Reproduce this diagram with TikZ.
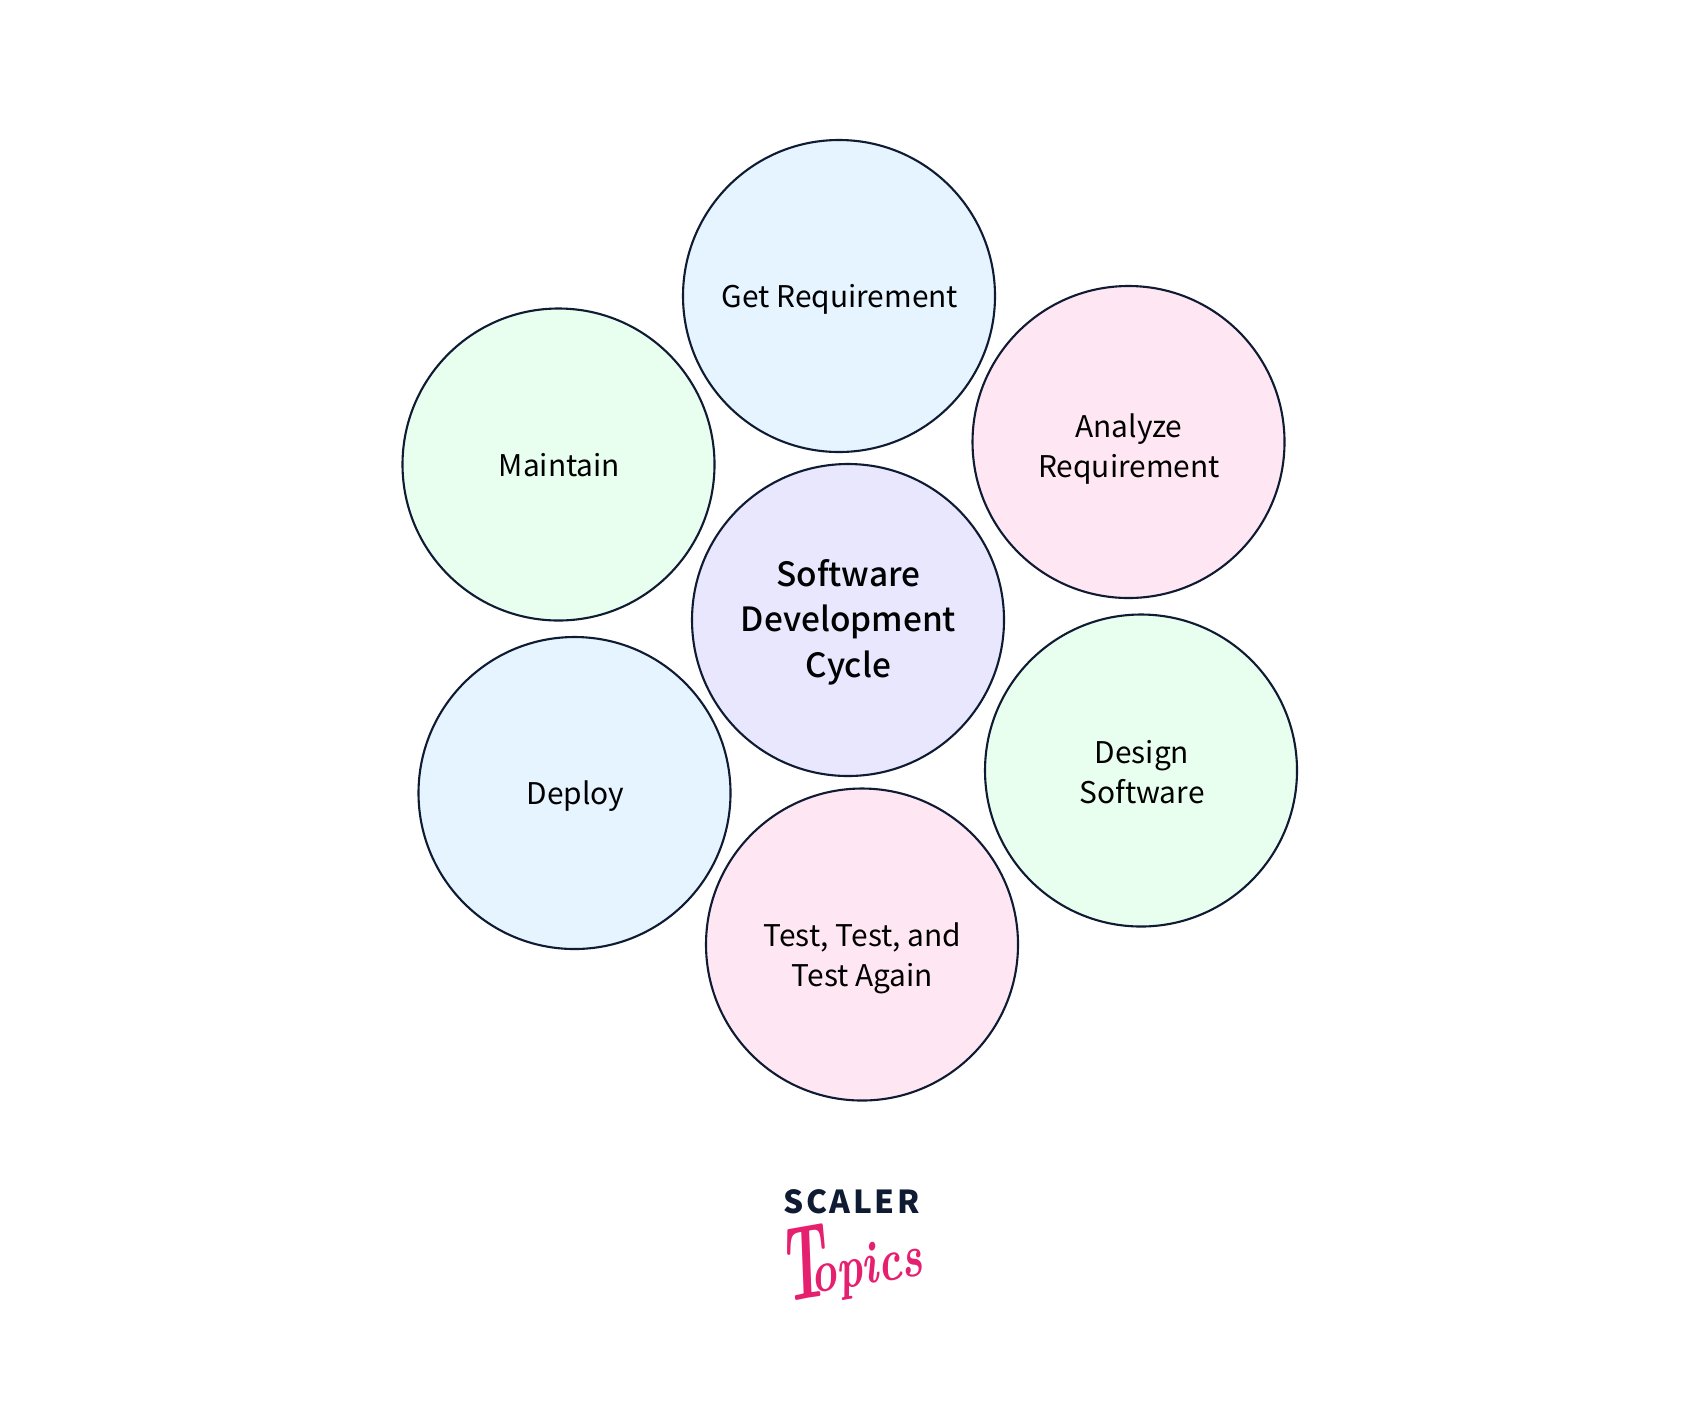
\documentclass[tikz,border=0pt]{standalone}
\usepackage{fontspec}
\setmainfont{Noto Sans CJK SC}
\newfontfamily\hubfont{Noto Sans CJK SC Medium}
\usepackage{xcolor}
\definecolor{inkline}{HTML}{0F1A33}
\definecolor{skyfill}{HTML}{E5F4FF}
\definecolor{rosefill}{HTML}{FEE7F3}
\definecolor{mintfill}{HTML}{E8FEEE}
\definecolor{lilacfill}{HTML}{E8E7FD}
\definecolor{logopink}{HTML}{E5206F}
\tikzset{
    stage/.style={circle, draw=inkline, line width=0.6pt, minimum size=31.2mm, inner sep=0pt},
    caption/.style={align=center, text=black, inner sep=0pt, font=\fontsize{8.5}{11.3}\selectfont},
    hubcaption/.style={caption, font=\fontsize{9.5}{12.9}\hubfont},
}

\begin{document}
\begin{tikzpicture}[x=0.1mm, y=-0.1mm]
    \useasboundingbox (0,0) rectangle (1700,1407);

    % outer ring
    \node[stage, fill=skyfill] (get) at (839,296) {};
    \node[stage, fill=rosefill] (analyze) at (1128.5,442) {};
    \node[stage, fill=mintfill] (design) at (1141,770.5) {};
    \node[stage, fill=rosefill] (test) at (862,944.5) {};
    \node[stage, fill=skyfill] (deploy) at (574.5,793) {};
    \node[stage, fill=mintfill] (maintain) at (558.5,464.5) {};

    % centre
    \node[stage, fill=lilacfill] (cycle) at (848,620) {};

    % texts sit a little off the centres
    \node[caption] (getlabel) at (840,299.5) {Get Requirement};
    \node[caption] (analyzelabel) at (1129,449) {Analyze\\Requirement};
    \node[caption] (designlabel) at (1142,772) {Design\\Software};
    \node[caption] (testlabel) at (862.5,958) {Test, Test, and\\Test Again};
    \node[caption] (deploylabel) at (575.5,796) {Deploy};
    \node[caption] (maintainlabel) at (559.5,465.5) {Maintain};
    \node[hubcaption] (cyclelabel) at (848.5,622) {Software\\Development\\Cycle};

    % logo
    \node[text=inkline, font=\fontsize{9}{9}\selectfont\bfseries] (scaler) at (851.5,1201.5) {\addfontfeature{LetterSpace=8}SCALER};
    \node[text=logopink, rotate=10, inner sep=0pt, font=\fontsize{17}{17}\fontspec{Latin Modern Roman}\bfseries\itshape] (topics) at (850,1259) {\scalebox{0.55}[1]{\fontsize{30}{30}\selectfont T}\kern-5pt\raisebox{1pt}{\scalebox{0.74}[1]{opics}}};
\end{tikzpicture}
\end{document}
